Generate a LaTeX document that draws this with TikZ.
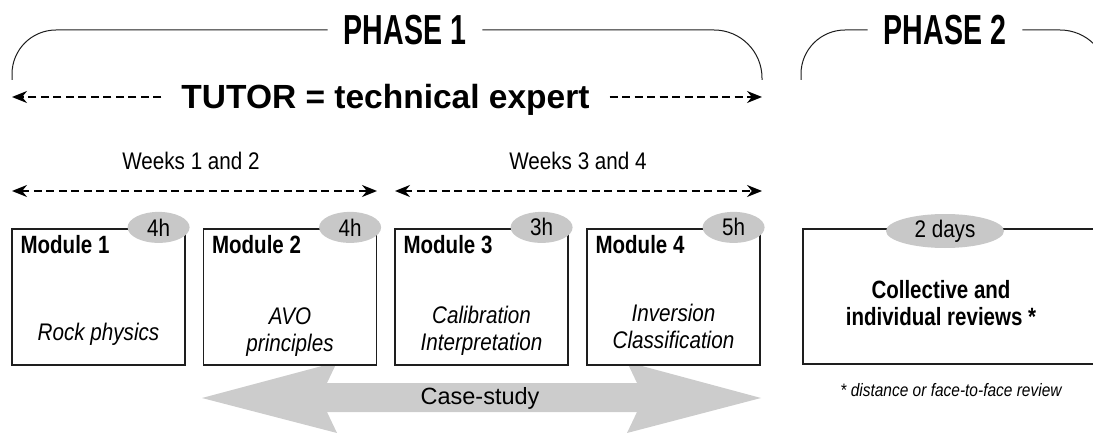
\documentclass[tikz,border=0pt]{standalone}
\usepackage{fontspec}
\setmainfont{Liberation Sans}
\newfontfamily\condfont[FakeStretch=0.86]{Liberation Sans}
\newfontfamily\condbold[FakeStretch=0.82]{Liberation Sans Bold}
\newfontfamily\phasefont[FakeStretch=0.68]{Liberation Sans Bold}
\usetikzlibrary{arrows.meta,shapes.geometric}
\definecolor{hgray}{RGB}{200,200,200}
\definecolor{agray}{RGB}{204,204,204}
\definecolor{ink}{RGB}{30,30,30}
\begin{document}
\begin{tikzpicture}[x=1pt,y=-1pt,
  modbox/.style={draw=ink,line width=1.2pt,fill=white,minimum width=173pt,minimum height=136pt,inner sep=0pt},
  hrs/.style={ellipse,fill=hgray,minimum width=62pt,minimum height=31pt,inner sep=0pt,font=\condfont\fontsize{24}{26}\selectfont},
  modtitle/.style={anchor=base west,inner sep=0pt,font=\condbold\fontsize{25}{28}\selectfont},
  modtext/.style={align=center,inner sep=0pt,font=\condfont\itshape\fontsize{24}{27}\selectfont},
  weeks/.style={inner sep=0pt,text height=17pt,text depth=0pt,font=\condfont\fontsize{24}{26}\selectfont},
  dasharr/.style={draw=black,line width=1.7pt,dash pattern=on 8pt off 4.5pt},
  bracket/.style={draw=ink,line width=1pt},
  phase/.style={inner xsep=16pt,inner ysep=0pt,text height=30pt,text depth=0pt,font=\phasefont\fontsize{42}{44}\selectfont},
  tip/.style={-{Stealth[length=15pt,width=12pt]}},
  tips/.style={{Stealth[length=15pt,width=12pt]}-{Stealth[length=15pt,width=12pt]}},
]
\useasboundingbox (0,0) rectangle (1093,433);
% phase brackets
\node[phase] (p1) at (405,30) {PHASE 1};
\node[phase] (p2) at (945,30) {PHASE 2};
\coordinate (b1l) at (12,80);
\coordinate (b1r) at (762,80);
\coordinate (b2l) at (801,80);
\coordinate (b2r) at (1108,80);
\draw[bracket,rounded corners=44pt] (p1.west) -| (b1l);
\draw[bracket,rounded corners=48pt] (p1.east) -| (b1r);
\draw[bracket,rounded corners=44pt] (p2.west) -| (b2l);
\draw[bracket,rounded corners=48pt] (p2.east) -| (b2r);
% tutor
\node[inner xsep=20pt,inner ysep=0pt,text height=24pt,text depth=0pt,font=\bfseries\fontsize{33.5}{36}\selectfont] (tutor) at (385.5,97) {TUTOR = technical expert};
\coordinate (tl) at (12,97);
\coordinate (tr) at (762,97);
\draw[dasharr,tip] (tutor.west) -- (tl);
\draw[dasharr,tip] (tutor.east) -- (tr);
% weeks
\node[weeks] (wk1) at (191,161) {Weeks 1 and 2};
\node[weeks] (wk2) at (578,161) {Weeks 3 and 4};
\coordinate (w1a) at (12,191);
\coordinate (w1b) at (377,191);
\coordinate (w2a) at (395,191);
\coordinate (w2b) at (762,191);
\draw[dasharr,tips] (w1a) -- (w1b);
\draw[dasharr,tips] (w2a) -- (w2b);
% case-study arrow
\fill[agray] (202,398) -- (337,362) -- (327,383) -- (637,383) -- (627,362) -- (761,398)
  -- (627,433) -- (637,412) -- (327,412) -- (337,433) -- cycle;
\node[inner sep=0pt,font=\fontsize{23.5}{26}\selectfont] (cs) at (480,398) {Case-study};
% modules
\node[modbox] (m1) at (98.5,297) {};
\node[modbox] (m2) at (290,297) {};
\node[modbox] (m3) at (481.5,297) {};
\node[modbox] (m4) at (673.5,297) {};
\node[modtitle] (t1) at ([shift={(9,25)}]m1.north west) {Module 1};
\node[modtitle] (t2) at ([shift={(9,25)}]m2.north west) {Module 2};
\node[modtitle] (t3) at ([shift={(9,25)}]m3.north west) {Module 3};
\node[modtitle] (t4) at ([shift={(9,25)}]m4.north west) {Module 4};
\node[hrs] (h1) at ([shift={(-27,-1)}]m1.north east) {4h};
\node[hrs] (h2) at ([shift={(-27,-1)}]m2.north east) {4h};
\node[hrs] (h3) at ([shift={(-27,-1)}]m3.north east) {3h};
\node[hrs] (h4) at ([shift={(-27,-1)}]m4.north east) {5h};
\node[modtext,anchor=base] (x1) at (98.5,340) {Rock physics};
\node[modtext] (x2) at (290,332) {AVO\\principles};
\node[modtext] (x3) at (481.5,331) {Calibration\\Interpretation};
\node[modtext] (x4) at (673.5,326) {Inversion\\Classification};
% phase 2
\node[modbox,minimum width=320pt,minimum height=135pt] (ph2) at (963,296.5) {};
\node[hrs,minimum width=118pt,minimum height=34pt] (h5) at (945,231) {2 days};
\node[align=center,inner sep=0pt,font=\condbold\fontsize{25}{27}\selectfont] (rev) at (941,303) {Collective and\\individual reviews *};
\node[anchor=base,inner sep=0pt,font=\condfont\itshape\fontsize{18}{20}\selectfont] (fn) at (951,396) {* distance or face-to-face review};
\end{tikzpicture}
\end{document}
